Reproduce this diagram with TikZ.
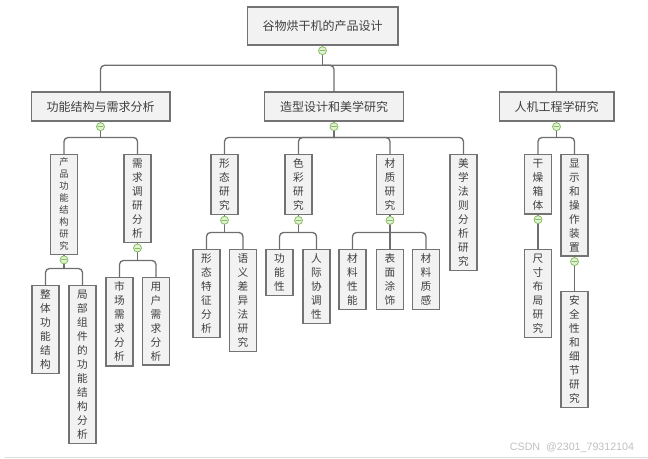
\documentclass[tikz,border=0pt]{standalone}
\usepackage{fontspec}
\setmainfont{Noto Sans CJK SC}
\newfontfamily\wmfont{Liberation Sans}
\usetikzlibrary{calc}
\definecolor{boxfill}{HTML}{F2F2F2}
\definecolor{boxline}{HTML}{737373}
\definecolor{linkc}{HTML}{6E6E6E}
\definecolor{txt}{HTML}{3F3F3F}
\definecolor{foldfill}{HTML}{E2F0D4}
\definecolor{foldline}{HTML}{86BF62}

\begin{document}
\begin{tikzpicture}[x=0.75pt,y=-0.75pt,line cap=round,
  topbox/.style={draw=boxline,fill=boxfill,line width=1pt,text=txt,font=\fontsize{9}{11}\selectfont,inner xsep=11.5pt,minimum height=21.75pt},
  vnode/.style={draw=boxline,fill=boxfill,line width=1pt,text=txt,font=\fontsize{8}{10.5}\selectfont,align=center,minimum width=20.25pt,inner xsep=0pt,inner ysep=3.1pt,anchor=north},
  link/.style={draw=linkc,line width=1pt,rounded corners=3pt},
  fold/.style={circle,draw=foldline,fill=foldfill,line width=0.6pt,minimum size=6pt,inner sep=0pt,
    path picture={\draw[foldline,line width=0.7pt] ([xshift=-1.8pt]path picture bounding box.center) -- ([xshift=1.8pt]path picture bounding box.center);}}]
\useasboundingbox (0,0) rectangle (648,459);

% root and main branches
\node[topbox,minimum height=28.5pt] (root) at (322.5,26) {谷物烘干机的产品设计};
\node[topbox] (n1) at (100.5,106.5) {功能结构与需求分析};
\node[topbox] (n2) at (334,106.5) {造型设计和美学研究};
\node[topbox] (n3) at (556.5,106.5) {人机工程学研究};

% third level
\node[vnode,font=\fontsize{7}{9}\selectfont,inner ysep=2.6pt] (n11) at (64,154) {产\\品\\功\\能\\结\\构\\研\\究};
\node[vnode] (n12) at (137.5,154) {需\\求\\调\\研\\分\\析};
\node[vnode] (n21) at (224.5,154) {形\\态\\研\\究};
\node[vnode] (n22) at (298.5,154) {色\\彩\\研\\究};
\node[vnode] (n23) at (390,154) {材\\质\\研\\究};
\node[vnode] (n24) at (463.5,154) {美\\学\\法\\则\\分\\析\\研\\究};
\node[vnode] (n31) at (538,154) {干\\燥\\箱\\体};
\node[vnode] (n32) at (574.5,154) {显\\示\\和\\操\\作\\装\\置};

% leaves
\node[vnode] (n111) at (45.5,285) {整\\体\\功\\能\\结\\构};
\node[vnode] (n112) at (82.5,285) {局\\部\\组\\件\\的\\功\\能\\结\\构\\分\\析};
\node[vnode] (n121) at (119.5,277) {市\\场\\需\\求\\分\\析};
\node[vnode] (n122) at (156,277) {用\\户\\需\\求\\分\\析};
\node[vnode] (n211) at (206.5,249) {形\\态\\特\\征\\分\\析};
\node[vnode] (n212) at (243,249) {语\\义\\差\\异\\法\\研\\究};
\node[vnode] (n221) at (279.5,249) {功\\能\\性};
\node[vnode] (n222) at (316.5,249) {人\\际\\协\\调\\性};
\node[vnode] (n231) at (352.5,249) {材\\料\\性\\能};
\node[vnode] (n232) at (390,249) {表\\面\\涂\\饰};
\node[vnode] (n233) at (426,249) {材\\料\\质\\感};
\node[vnode] (n311) at (538,249) {尺\\寸\\布\\局\\研\\究};
\node[vnode] (n321) at (574.5,291) {安\\全\\性\\和\\细\\节\\研\\究};

% connectors
\foreach \p/\f/\g/\kids in {root/n1/26/{n1,n2,n3},n1/n11/16.5/{n11,n12},n2/n21/16.5/{n21,n22,n23,n24},
    n3/n31/16.5/{n31,n32},n11/n111/16.5/{n111,n112},n12/n121/16.5/{n121,n122},
    n21/n211/16.5/{n211,n212},n22/n221/16.5/{n221,n222},n23/n231/16.5/{n231,n232,n233}}{
  \coordinate (\p-j) at ($(\p.south |- \f.north)+(0,-\g)$);
  \draw[link] (\p.south) -- (\p-j);
  \foreach \c in \kids \draw[link] (\p-j) -| (\c.north);
}
\draw[link] (n31.south) -- (n311.north);
\draw[link] (n32.south) -- (n321.north);

% fold markers
\foreach \p in {root,n1,n2,n3,n11,n12,n21,n22,n23,n31,n32}
  \node[fold] (\p-f) at ($(\p.south)+(0,5)$) {};

\node[text=gray!50,font=\wmfont\fontsize{8}{9}\selectfont] (wm) at (572,448) {CSDN\ \ @2301\_79312104};
\draw[gray!25,line width=1pt] (5,457.5) -- (648,457.5);
\end{tikzpicture}
\end{document}
